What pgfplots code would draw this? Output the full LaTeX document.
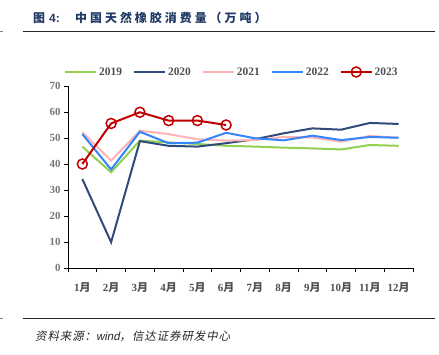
\documentclass[border=0pt]{standalone}
\usepackage{pgfplots}
\pgfplotsset{compat=1.18}
\usepackage{fontspec}
\setmainfont{Liberation Serif}
\newfontfamily\cjk{Noto Sans CJK SC}
\newfontfamily\cjktitle[LetterSpace=25]{Noto Sans CJK SC}
\newfontfamily\cjksrc[FakeSlant=0.2,LetterSpace=8]{Noto Sans CJK SC}
\newfontfamily\srcsans[FakeSlant=0.2]{Liberation Sans}
\newfontfamily\titlesans{Liberation Sans}
\definecolor{c19}{RGB}{146,208,80}
\definecolor{c20}{RGB}{47,75,124}
\definecolor{c21}{RGB}{255,179,179}
\definecolor{c22}{RGB}{51,133,255}
\definecolor{c23}{RGB}{192,0,0}
\definecolor{tgray}{RGB}{118,118,118}
\definecolor{lgray}{RGB}{80,80,80}
\definecolor{titleblue}{RGB}{31,56,100}
\begin{document}
\begin{tikzpicture}[x=1bp,y=1bp]
\useasboundingbox (0,0) rectangle (439,354);
\node[anchor=west,text=titleblue,inner sep=0pt] at (33,336) {\fontsize{12}{14}\selectfont\bfseries{\cjk 图}\hspace{4bp}{\titlesans 4:}};
\node[anchor=west,text=titleblue,inner sep=0pt] at (75,336) {\cjktitle\fontsize{12}{14}\selectfont\bfseries 中国天然橡胶消费量（万吨）};
\draw[line width=0.8bp,black!85] (23,323) -- (435,323);
\draw[line width=0.8bp,black!85] (23,36) -- (435,36);
\draw[gray] (0,323) -- (3,323);
\draw[gray] (0,36) -- (3,36);
\node[anchor=west,inner sep=0pt,text=black!85] at (35,18) {\cjksrc\fontsize{11.5}{14}\selectfont 资料来源：{\srcsans wind}，信达证券研发中心};
\begin{axis}[
  at={(68bp,86bp)}, anchor=south west,
  scale only axis, width=345bp, height=182bp,
  xmin=0.5, xmax=12.5, ymin=0, ymax=70,
  axis lines=left,
  axis line style={-, black, line width=0.8bp},
  tick style={black, line width=0.8bp},
  tick align=outside, major tick length=4bp,
  ytick={0,10,...,70},
  xtick={0.5,1.5,...,12.5},
  x tick label as interval,
  xticklabels={1{\cjk 月},2{\cjk 月},3{\cjk 月},4{\cjk 月},5{\cjk 月},6{\cjk 月},7{\cjk 月},8{\cjk 月},9{\cjk 月},10{\cjk 月},11{\cjk 月},12{\cjk 月}},
  /pgf/number format/assume math mode=true,
  yticklabel style={font=\bfseries\fontsize{11}{13}\selectfont, text=tgray},
  xticklabel style={font=\bfseries\fontsize{11}{13}\selectfont, text=lgray, yshift=-7bp},
  legend columns=5,
  legend style={draw=none, fill=none, at={(0.475,1.077)}, anchor=center,
    font=\bfseries\fontsize{11.5}{13}\selectfont, text=lgray,
    /tikz/every even column/.append style={column sep=9bp}},
  legend image code/.code={\draw[mark repeat=2,mark phase=2,#1] plot coordinates {(0bp,0bp) (15.5bp,0bp) (31bp,0bp)};},
  every axis plot/.append style={line width=2bp},
  clip=false,
]
\addplot[c19, no markers] coordinates {(1,46.7)(2,36.8)(3,49.0)(4,48.3)(5,47.7)(6,47.0)(7,46.7)(8,46.3)(9,46.0)(10,45.6)(11,47.3)(12,47.0)};
\addlegendentry{2019}
\addplot[c20, no markers] coordinates {(1,34.2)(2,9.9)(3,48.8)(4,47.0)(5,46.7)(6,48.0)(7,49.5)(8,51.8)(9,53.7)(10,53.2)(11,55.8)(12,55.4)};
\addlegendentry{2020}
\addplot[c21, no markers] coordinates {(1,52.2)(2,41.3)(3,52.8)(4,51.5)(5,49.5)(6,49.0)(7,49.2)(8,50.4)(9,50.2)(10,48.6)(11,50.8)(12,50.1)};
\addlegendentry{2021}
\addplot[c22, no markers] coordinates {(1,51.5)(2,37.9)(3,52.4)(4,48.0)(5,48.2)(6,52.0)(7,49.9)(8,49.1)(9,50.9)(10,49.2)(11,50.4)(12,50.1)};
\addlegendentry{2022}
\addplot[c23, mark=o, mark size=5bp, mark options={line width=1.5bp, fill=white}] coordinates {(1,40.0)(2,55.6)(3,59.9)(4,56.7)(5,56.7)(6,55.0)};
\addlegendentry{2023}
\end{axis}
\end{tikzpicture}
\end{document}
